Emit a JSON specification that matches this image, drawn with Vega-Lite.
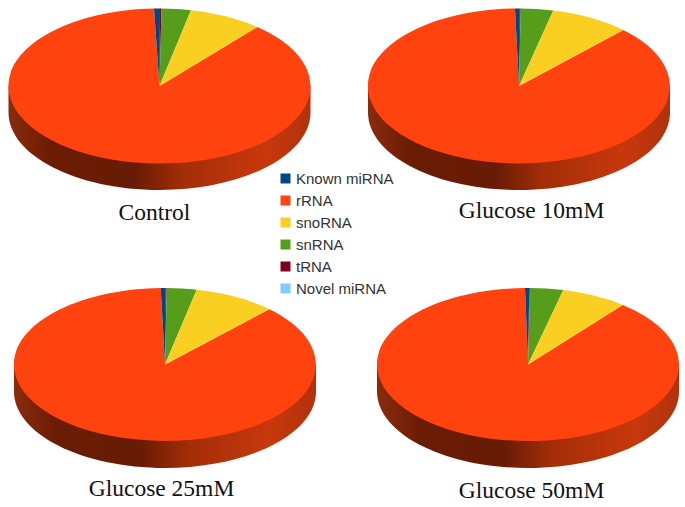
{
"$schema":"https://vega.github.io/schema/vega-lite/v6.json",
"width":685,"height":507,"padding":0,"autosize":"none",
"background":"white",
"view":{"stroke":null},
"datasets":{
"slices":[
{"panel":"Control","type":"rRNA","share":88.6,"slice":"Control rRNA"},
{"panel":"Control","type":"Known miRNA","share":0.6,"slice":"Control Known miRNA"},
{"panel":"Control","type":"tRNA","share":0.2,"slice":"Control tRNA"},
{"panel":"Control","type":"snRNA","share":3.3,"slice":"Control snRNA"},
{"panel":"Control","type":"snoRNA","share":7.3,"slice":"Control snoRNA"},
{"panel":"Glucose 10mM","type":"rRNA","share":87.3,"slice":"G10 rRNA"},
{"panel":"Glucose 10mM","type":"Known miRNA","share":0.5,"slice":"G10 Known miRNA"},
{"panel":"Glucose 10mM","type":"tRNA","share":0.2,"slice":"G10 tRNA"},
{"panel":"Glucose 10mM","type":"snRNA","share":3.6,"slice":"G10 snRNA"},
{"panel":"Glucose 10mM","type":"snoRNA","share":8.4,"slice":"G10 snoRNA"},
{"panel":"Glucose 25mM","type":"rRNA","share":87.8,"slice":"G25 rRNA"},
{"panel":"Glucose 25mM","type":"Known miRNA","share":0.5,"slice":"G25 Known miRNA"},
{"panel":"Glucose 25mM","type":"tRNA","share":0.2,"slice":"G25 tRNA"},
{"panel":"Glucose 25mM","type":"snRNA","share":3.2,"slice":"G25 snRNA"},
{"panel":"Glucose 25mM","type":"snoRNA","share":8.3,"slice":"G25 snoRNA"},
{"panel":"Glucose 50mM","type":"rRNA","share":88.3,"slice":"G50 rRNA"},
{"panel":"Glucose 50mM","type":"Known miRNA","share":0.4,"slice":"G50 Known miRNA"},
{"panel":"Glucose 50mM","type":"tRNA","share":0.1,"slice":"G50 tRNA"},
{"panel":"Glucose 50mM","type":"snRNA","share":3.6,"slice":"G50 snRNA"},
{"panel":"Glucose 50mM","type":"snoRNA","share":7.6,"slice":"G50 snoRNA"}
],
"panels":[
{"panel":"Control"},{"panel":"Glucose 10mM"},{"panel":"Glucose 25mM"},{"panel":"Glucose 50mM"}
]},
"layer":[
{"data":{"name":"panels"},"transform":[{"filter":{"field":"panel","oneOf":["Control","Glucose 10mM"]}}],
"mark":{"type":"point","filled":true,"size":4,"opacity":1,"strokeWidth":0,
"fill":{"gradient":"linear","x1":0,"y1":0,"x2":1,"y2":0,"stops":[{"offset":0,"color":"#8a2c0c"},{"offset":0.14,"color":"#6b1c04"},{"offset":0.42,"color":"#681b05"},{"offset":0.58,"color":"#a32e08"},{"offset":0.85,"color":"#c8380c"},{"offset":1,"color":"#b0320c"}]}},
"encoding":{
"x":{"field":"panel","type":"nominal","axis":null,"scale":{"domain":["Control","Glucose 10mM"],"range":[159.5,519],"padding":0}},
"y":{"field":"panel","type":"nominal","axis":null,"scale":{"domain":["Control","Glucose 10mM"],"range":[86,86.01],"padding":0}},
"shape":{"field":"panel","type":"nominal","legend":null,"scale":{"domain":["Control","Glucose 10mM"],"range":["M-151,0 L-151,26.5 A151,77.5 0 0 0 151,26.5 L151,0 Z","M-151,0 L-151,26.5 A151,77.5 0 0 0 151,26.5 L151,0 Z"]}}
}},
{"data":{"name":"panels"},"transform":[{"filter":{"field":"panel","oneOf":["Glucose 25mM","Glucose 50mM"]}}],
"mark":{"type":"point","filled":true,"size":4,"opacity":1,"strokeWidth":0,
"fill":{"gradient":"linear","x1":0,"y1":0,"x2":1,"y2":0,"stops":[{"offset":0,"color":"#8a2c0c"},{"offset":0.14,"color":"#6b1c04"},{"offset":0.42,"color":"#681b05"},{"offset":0.58,"color":"#a32e08"},{"offset":0.85,"color":"#c8380c"},{"offset":1,"color":"#b0320c"}]}},
"encoding":{
"x":{"field":"panel","type":"nominal","axis":null,"scale":{"domain":["Glucose 25mM","Glucose 50mM"],"range":[165,528],"padding":0}},
"y":{"field":"panel","type":"nominal","axis":null,"scale":{"domain":["Glucose 25mM","Glucose 50mM"],"range":[364.5,364.51],"padding":0}},
"shape":{"field":"panel","type":"nominal","legend":null,"scale":{"domain":["Glucose 25mM","Glucose 50mM"],"range":["M-151,0 L-151,27 A151,76.5 0 0 0 151,27 L151,0 Z","M-151,0 L-151,27 A151,76.5 0 0 0 151,27 L151,0 Z"]}}
}},
{"data":{"name":"slices"},"transform":[{"filter":{"field":"panel","oneOf":["Control","Glucose 10mM"]}}],
"mark":{"type":"point","filled":true,"size":4,"opacity":1,"strokeWidth":0},
"encoding":{
"x":{"field":"panel","type":"nominal","axis":null,"scale":{"domain":["Control","Glucose 10mM"],"range":[159.5,519],"padding":0}},
"y":{"field":"panel","type":"nominal","axis":null,"scale":{"domain":["Control","Glucose 10mM"],"range":[86,86.01],"padding":0}},
"color":{"field":"type","type":"nominal","scale":{"domain":["Known miRNA","rRNA","snoRNA","snRNA","tRNA","Novel miRNA"],"range":["#004586","#ff420e","#f9cf21","#579d1c","#7e0021","#83caff"]},
"legend":{"title":null,"orient":"none","legendX":278,"legendY":171,"symbolType":"square","symbolSize":100,"symbolStrokeWidth":0,"labelFont":"Liberation Sans","labelFontSize":15,"labelColor":"#333333","labelOffset":3,"rowPadding":6,"labelLimit":200}},
"shape":{"field":"slice","type":"nominal","legend":null,"scale":{"domain":["Control rRNA","Control Known miRNA","Control tRNA","Control snRNA","Control snoRNA","G10 rRNA","G10 Known miRNA","G10 tRNA","G10 snRNA","G10 snoRNA"],
"range":[
"M0,0 L97.8,-59 A151,77.5 0 1 1 -5.5,-77.4 Z",
"M0,0 L-5.5,-77.4 A151,77.5 0 0 1 0.5,-77.5 Z",
"M0,0 L0.5,-77.5 A151,77.5 0 0 1 2,-77.5 Z",
"M0,0 L2,-77.5 A151,77.5 0 0 1 31.5,-75.8 Z",
"M0,0 L31.5,-75.8 A151,77.5 0 0 1 97.8,-59 Z",
"M0,0 L104.3,-56 A151,77.5 0 1 1 -4,-77.5 Z",
"M0,0 L-4,-77.5 A151,77.5 0 0 1 0.3,-77.5 Z",
"M0,0 L0.3,-77.5 A151,77.5 0 0 1 1.7,-77.5 Z",
"M0,0 L1.7,-77.5 A151,77.5 0 0 1 34.3,-75.5 Z",
"M0,0 L34.3,-75.5 A151,77.5 0 0 1 104.3,-56 Z"
]}}
}},
{"data":{"name":"slices"},"transform":[{"filter":{"field":"panel","oneOf":["Glucose 25mM","Glucose 50mM"]}}],
"mark":{"type":"point","filled":true,"size":4,"opacity":1,"strokeWidth":0},
"encoding":{
"x":{"field":"panel","type":"nominal","axis":null,"scale":{"domain":["Glucose 25mM","Glucose 50mM"],"range":[165,528],"padding":0}},
"y":{"field":"panel","type":"nominal","axis":null,"scale":{"domain":["Glucose 25mM","Glucose 50mM"],"range":[364.5,364.51],"padding":0}},
"color":{"field":"type","type":"nominal","legend":null,"scale":{"domain":["Known miRNA","rRNA","snoRNA","snRNA","tRNA","Novel miRNA"],"range":["#004586","#ff420e","#f9cf21","#579d1c","#7e0021","#83caff"]}},
"shape":{"field":"slice","type":"nominal","legend":null,"scale":{"domain":["G25 rRNA","G25 Known miRNA","G25 tRNA","G25 snRNA","G25 snoRNA","G50 rRNA","G50 Known miRNA","G50 tRNA","G50 snRNA","G50 snoRNA"],
"range":[
"M0,0 L104.3,-55.3 A151,76.5 0 1 1 -4.3,-76.5 Z",
"M0,0 L-4.3,-76.5 A151,76.5 0 0 1 0.3,-76.5 Z",
"M0,0 L0.3,-76.5 A151,76.5 0 0 1 1.7,-76.5 Z",
"M0,0 L1.7,-76.5 A151,76.5 0 0 1 31.7,-74.8 Z",
"M0,0 L31.7,-74.8 A151,76.5 0 0 1 104.3,-55.3 Z",
"M0,0 L94.7,-59.6 A151,76.5 0 1 1 -3,-76.5 Z",
"M0,0 L-3,-76.5 A151,76.5 0 0 1 1.3,-76.5 Z",
"M0,0 L1.3,-76.5 A151,76.5 0 0 1 2,-76.5 Z",
"M0,0 L2,-76.5 A151,76.5 0 0 1 35.3,-74.4 Z",
"M0,0 L35.3,-74.4 A151,76.5 0 0 1 94.7,-59.6 Z"
]}}
}},
{"data":{"name":"panels"},"transform":[{"filter":{"field":"panel","oneOf":["Control","Glucose 10mM"]}}],
"mark":{"type":"text","font":"Liberation Serif","fontSize":23.5,"baseline":"middle","align":"center","color":"#111111"},
"encoding":{
"text":{"field":"panel"},
"x":{"field":"panel","type":"nominal","axis":null,"scale":{"domain":["Control","Glucose 10mM"],"range":[154.5,531.5],"padding":0}},
"y":{"field":"panel","type":"nominal","axis":null,"scale":{"domain":["Control","Glucose 10mM"],"range":[213,211],"padding":0}}
}},
{"data":{"name":"panels"},"transform":[{"filter":{"field":"panel","oneOf":["Glucose 25mM","Glucose 50mM"]}}],
"mark":{"type":"text","font":"Liberation Serif","fontSize":23.5,"baseline":"middle","align":"center","color":"#111111"},
"encoding":{
"text":{"field":"panel"},
"x":{"field":"panel","type":"nominal","axis":null,"scale":{"domain":["Glucose 25mM","Glucose 50mM"],"range":[161.5,531.5],"padding":0}},
"y":{"field":"panel","type":"nominal","axis":null,"scale":{"domain":["Glucose 25mM","Glucose 50mM"],"range":[489,491],"padding":0}}
}}
],
"resolve":{"scale":{"x":"independent","y":"independent","shape":"independent","color":"shared"}}
}
